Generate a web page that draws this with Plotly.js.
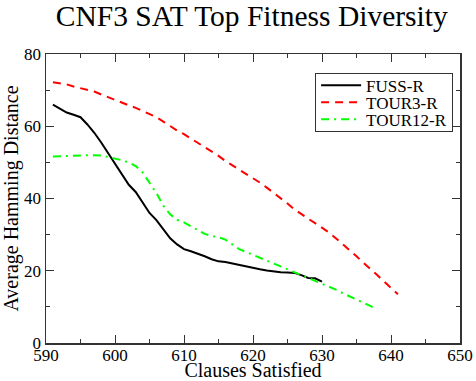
<!DOCTYPE html>
<html>
<head>
<meta charset="utf-8">
<script src="https://cdn.plot.ly/plotly-3.0.1.min.js"></script>
<style>
  html, body { margin: 0; padding: 0; background: #fff; }
  #plot { width: 476px; height: 381px; }
</style>
</head>
<body>
<div id="plot"></div>
<script>
// FUSS-R
var fussX = [591, 592, 593, 594, 595, 596, 597, 598, 599, 600, 601, 602, 603, 604, 605, 606, 607, 608, 609, 610,
             611, 612, 613, 614, 615, 616, 617, 618, 619, 620, 621, 622, 623, 624, 625, 626, 627, 628, 629, 630];
var fussY = [66.0, 64.8, 63.8, 63.2, 62.5, 60.5, 58.2, 55.5, 52.5, 49.5, 46.5, 43.8, 41.8, 38.8, 36.0, 34.0, 31.5, 29.0, 27.3, 26.0,
             25.4, 24.8, 24.0, 23.2, 22.6, 22.4, 22.0, 21.4, 21.0, 20.8, 20.4, 20.1, 19.8, 19.6, 19.5, 19.4, 18.8, 18.0, 17.9, 17.0];

// TOUR3-R
var tour3X = [591, 592, 593, 594, 595, 596, 597, 598, 599, 600, 601, 602, 603, 604, 605, 606, 607, 608, 609, 610,
              611, 612, 613, 614, 615, 616, 617, 618, 619, 620, 621, 622, 623, 624, 625, 626, 627, 628, 629, 630,
              631, 632, 633, 634, 635, 636, 637, 638, 639, 640, 641];
var tour3Y = [72.2, 72.0, 71.6, 71.0, 70.6, 70.2, 69.6, 68.8, 68.0, 67.2, 66.5, 65.8, 65.1, 64.3, 63.4, 62.5, 61.3, 60.0, 58.8, 57.8,
              56.6, 55.5, 54.4, 53.0, 51.8, 50.4, 49.2, 48.0, 46.8, 45.8, 44.4, 43.0, 41.6, 40.0, 38.6, 37.0, 35.6, 34.4, 33.2, 32.0,
              30.6, 29.0, 27.4, 25.8, 24.0, 22.2, 20.6, 18.8, 17.0, 15.3, 13.5];

// TOUR12-R
var tour12X = [591, 592, 593, 594, 595, 596, 597, 598, 599, 600, 601, 602, 603, 604, 605, 606, 607, 608, 609, 610,
               611, 612, 613, 614, 615, 616, 617, 618, 619, 620, 621, 622, 623, 624, 625, 626, 627, 628, 629, 630,
               631, 632, 633, 634, 635, 636, 637.5];
var tour12Y = [51.6, 51.7, 51.8, 51.9, 51.9, 52.0, 52.0, 51.9, 51.5, 51.1, 50.6, 50.0, 49.0, 47.2, 44.5, 41.5, 38.0, 35.6, 34.1, 33.4,
               32.3, 31.2, 30.2, 29.6, 29.3, 28.6, 27.2, 26.0, 25.2, 24.4, 23.6, 22.8, 22.0, 21.2, 20.5, 19.8, 19.0, 18.2, 17.4, 16.6,
               15.7, 14.8, 13.8, 12.9, 12.0, 11.0, 9.8];

var serif = 'Liberation Serif, Times New Roman, serif';

var data = [
  { x: fussX, y: fussY, mode: 'lines', name: 'FUSS-R',
    line: { color: '#000000', width: 2 } },
  { x: tour3X, y: tour3Y, mode: 'lines', name: 'TOUR3-R',
    line: { color: '#ff0000', width: 2, dash: '8px,6px' } },
  { x: tour12X, y: tour12Y, mode: 'lines', name: 'TOUR12-R',
    line: { color: '#00ff00', width: 2, dash: '8px,5px,2px,5px' } }
];

var axisStyle = {
  showgrid: false,
  zeroline: false,
  showline: true,
  linecolor: '#333333',
  linewidth: 1.5,
  mirror: 'allticks',
  ticks: 'inside',
  ticklen: 8,
  tickwidth: 1,
  tickcolor: '#333333',
  tickfont: { family: serif, size: 17, color: '#000' }
};

var layout = {
  width: 476,
  height: 381,
  margin: { l: 46, r: 16, t: 54, b: 38 },
  paper_bgcolor: '#ffffff',
  plot_bgcolor: '#ffffff',
  showlegend: true,
  title: {
    text: 'CNF3 SAT Top Fitness Diversity',
    font: { family: serif, size: 29.5, color: '#000' },
    x: 0.529, xanchor: 'center', y: 0.958, yanchor: 'middle'
  },
  xaxis: Object.assign({}, axisStyle, {
    range: [590, 650], dtick: 10, tick0: 590,
    ticklabelstandoff: -4,
    minor: { dtick: 5, ticklen: 4, ticks: 'inside', tickcolor: '#333333', showgrid: false },
    title: { text: 'Clauses Satisfied', font: { family: serif, size: 20, color: '#000' }, standoff: 8 }
  }),
  yaxis: Object.assign({}, axisStyle, {
    range: [0, 80], dtick: 20, tick0: 0,
    minor: { dtick: 10, ticklen: 4, ticks: 'inside', tickcolor: '#333333', showgrid: false },
    title: { text: 'Average Hamming Distance', font: { family: serif, size: 20, color: '#000' }, standoff: 4 }
  }),
  legend: {
    x: 0.65, y: 0.933, xanchor: 'left', yanchor: 'top',
    bgcolor: '#ffffff',
    bordercolor: '#333333',
    borderwidth: 1,
    font: { family: serif, size: 17, color: '#000' },
    tracegroupgap: 0,
    itemwidth: 40
  }
};

Plotly.newPlot('plot', data, layout, { staticPlot: true }).then(function(gd) {
  // squeeze legend rows closer together, as in the original figure
  var rows = gd.querySelectorAll('.legend .traces');
  rows.forEach(function(row, i) {
    var m = /translate\(([^,]+),/.exec(row.getAttribute('transform') || '');
    var tx = m ? m[1] : 1;
    row.setAttribute('transform', 'translate(' + tx + ',' + (12 + 17 * i) + ')');
  });
  var bg = gd.querySelector('.legend rect.bg');
  if (bg) bg.setAttribute('height', 12 + 17 * (rows.length - 1) + 12);
});
</script>
</body>
</html>
